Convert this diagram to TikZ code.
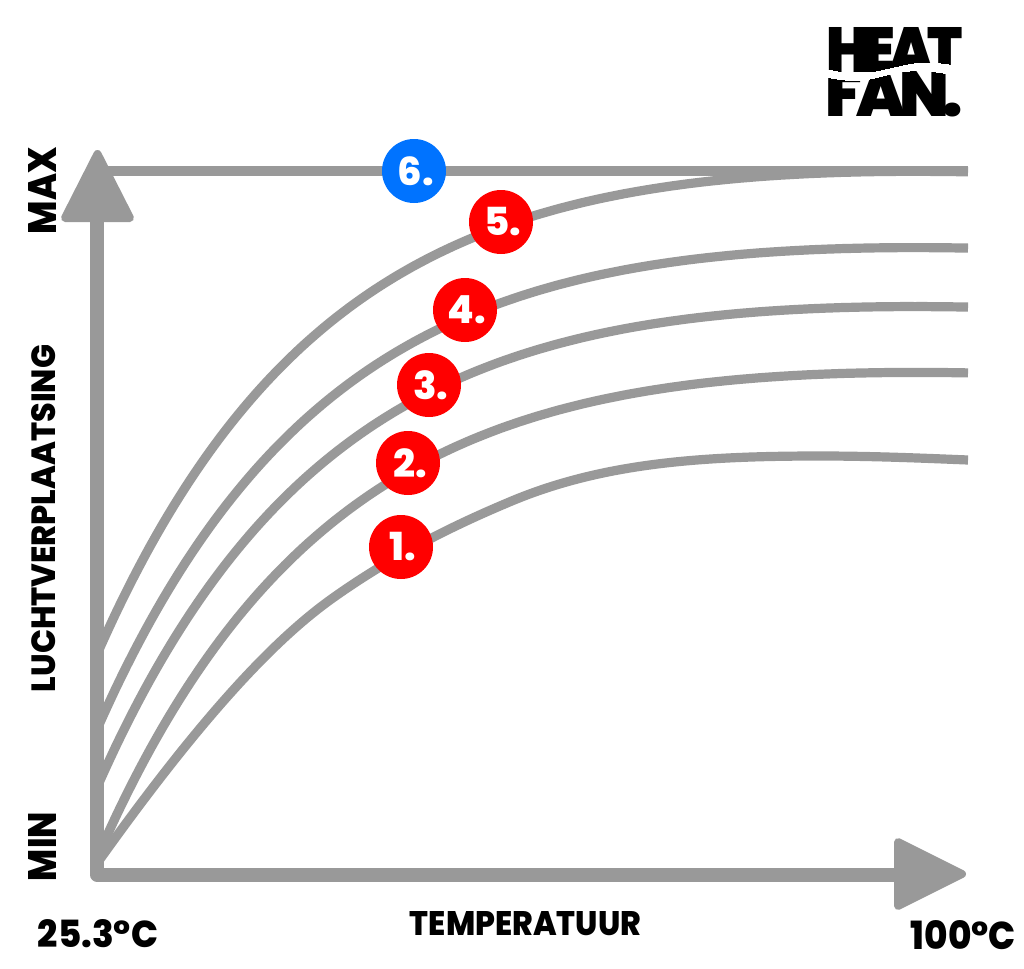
\documentclass[tikz,border=0pt]{standalone}
\usepackage{fontspec}
\usepackage{graphicx}
\setmainfont{Poppins}
\newfontfamily\labf{Poppins ExtraBold}
\newfontfamily\logof{Poppins Black}[LetterSpace=-10]
\definecolor{axisgrey}{HTML}{999999}
\definecolor{dotred}{HTML}{FF0000}
\definecolor{dotblue}{HTML}{0073FF}
\newcommand\fitbox[3]{\resizebox{\dimexpr #1pt*3/4\relax}{\dimexpr #2pt*3/4\relax}{#3}}
\newcommand\digits[1]{\hspace*{3pt}#1}
\tikzset{
  axisline/.style={draw=axisgrey,line width=10.5pt,line join=round},
  curveline/.style={draw=axisgrey,line width=6.9pt,line cap=butt,line join=round},
  tip/.style={fill=axisgrey,draw=axisgrey,line width=6pt,line join=round},
  dot/.style={circle,minimum size=48pt,inner sep=0pt,text=white,font=\labf\fontsize{29}{29}\selectfont},
  lab/.style={inner sep=0pt,text=black,font=\labf},
}
\begin{document}
\begin{tikzpicture}[x=0.75pt,y=-0.75pt]
\useasboundingbox (0,0) rectangle (1024,968);
\fill[white] (0,0) rectangle (1024,968);
% curves
\draw[curveline] (104,171) -- (968,171);
\draw[curveline] plot[domain=98:968,samples=150] (\x,{129.7+522.3*exp(-(\x-98)/230)+0.4*((\x-98)/100)^2});
\draw[curveline] plot[domain=98:968,samples=150] (\x,{206+521*exp(-(\x-98)/230)+0.4*((\x-98)/100)^2});
\draw[curveline] plot[domain=98:968,samples=150] (\x,{265+520*exp(-(\x-98)/230)+0.4*((\x-98)/100)^2});
\draw[curveline] plot[domain=98:968,samples=150] (\x,{330.7+525*exp(-(\x-98)/230)+0.4*((\x-98)/100)^2});
\draw[curveline] (98,862) .. controls (190,733) and (265,647) .. (330,600) .. controls (390,557) and (450,527) .. (507,503) .. controls (600,463) and (700,456) .. (820,456) .. controls (870,456) and (920,458) .. (968,460);
% axes
\draw[axisline] (97,200) -- (97,874.5) -- (920,874.5);
\filldraw[tip] (97.5,154) -- (130,218) -- (65,218) -- cycle;
\filldraw[tip] (962,874) -- (898,842) -- (898,906) -- cycle;
% badges
\node[dot,fill=dotblue] (n6) at (414,171) {\digits{6.}};
\node[dot,fill=dotred] (n5) at (501,222) {\digits{5.}};
\node[dot,fill=dotred] (n4) at (465,310) {\digits{4.}};
\node[dot,fill=dotred] (n3) at (429,385) {\digits{3.}};
\node[dot,fill=dotred] (n2) at (408,463) {\digits{2.}};
\node[dot,fill=dotred] (n1) at (401,547) {\digits{1.}};
% axis labels
\node[lab,rotate=90] (lmax) at (42,190.5) {\fitbox{87}{28}{MAX}};
\node[lab,rotate=90] (lmin) at (42,846.5) {\fitbox{69}{28}{MIN}};
\node[lab,rotate=90] (lluft) at (44,518.5) {\fitbox{347}{24}{LUCHTVERPLAATSING}};
\node[lab] (ltemp) at (525.5,924) {\fitbox{231}{24}{TEMPERATUUR}};
\node[lab] (lmint) at (98,934) {\fitbox{120}{28}{25.3°C}};
\node[lab] (lmaxt) at (963.5,935) {\fitbox{105}{29}{100°C}};
% logo
\begin{scope}
\clip (820,20) -- (970,20) -- (970,67) .. controls (950,65) and (935,60) .. (913,63) .. controls (890,67) and (870,74) .. (853,73) .. controls (840,72) and (832,70) .. (820,67) -- cycle;
\node[inner sep=0pt,text=black,font=\logof] (heat) at (894.5,49.5) {\fitbox{137}{45}{HEAT}};
\end{scope}
\begin{scope}
\clip (820,125) -- (970,125) -- (970,77) .. controls (950,76) and (935,70) .. (913,71) .. controls (890,72) and (870,82) .. (853,81) .. controls (840,80) and (832,79) .. (820,76) -- cycle;
\node[inner sep=0pt,text=black,font=\logof] (fan) at (894.5,94.5) {\fitbox{137}{45}{FAN.}};
\end{scope}
\end{tikzpicture}
\end{document}
